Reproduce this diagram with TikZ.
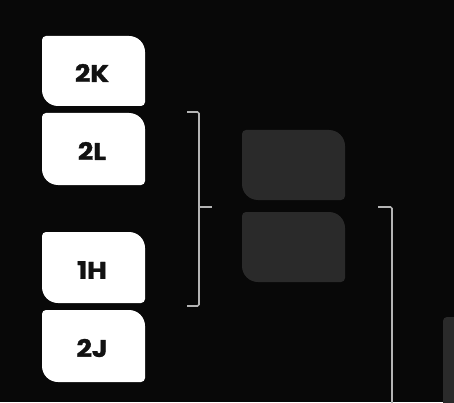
\documentclass[tikz,border=0pt]{standalone}
\usepackage{fontspec}
\usepackage{graphicx}
\setmainfont{Poppins}[BoldFeatures={FakeBold=1.3}]
\definecolor{bg}{HTML}{080808}
\definecolor{tilegray}{HTML}{2A2A2A}
\definecolor{linegray}{HTML}{B4B4B4}
\definecolor{ink}{HTML}{121212}
\newcommand{\mytile}[5]{%
  \fill[#1] (#2,#5+16) -- (#2,#4-4) arc(180:90:4) -- (#3-16,#4) arc(90:0:16)
    -- (#3,#5+4) arc(0:-90:4) -- (#2+16,#5) arc(270:180:16) -- cycle;}
\newcommand{\wide}[1]{\scalebox{1.12}[1]{#1}}
\tikzset{
  lbl/.style={text=ink, font=\fontsize{24}{26}\selectfont\bfseries, inner sep=0pt},
  bracket/.style={draw=linegray, line width=1.6pt, rounded corners=1.5pt}
}
\begin{document}
\begin{tikzpicture}[x=1pt,y=1pt]
\useasboundingbox (0,0) rectangle (454,402);
\fill[bg] (0,0) rectangle (454,402);
\begin{scope}
\clip (0,0) rectangle (454,402);
% white tiles
\mytile{white}{42}{145}{366}{296}
\mytile{white}{42}{145}{289}{217}
\mytile{white}{42}{145}{170}{99}
\mytile{white}{42}{145}{92}{20}
% gray tiles
\mytile{tilegray}{242}{345}{272}{202}
\mytile{tilegray}{242}{345}{190}{120}
\mytile{tilegray}{443}{560}{85}{-40}
\end{scope}
% labels
\node[lbl] (k2) at (92,329) {\wide{2K}};
\node[lbl] (l2) at (92,251) {\wide{2L}};
\node[lbl] (h1) at (92,132) {\wide{1H}};
\node[lbl] (j2) at (92,54) {\wide{2J}};
% bracket coordinates
\coordinate (b1t) at (187,290);
\coordinate (b1b) at (187,96);
\coordinate (b1m) at (212,195);
\coordinate (b2t) at (378,195);
\coordinate (b2b) at (392,-5);
\draw[bracket] (b1t) -- (199,290) -- (199,96) -- (b1b);
\draw[bracket] (199,195) -- (b1m);
\draw[bracket] (b2t) -- (392,195) -- (b2b);
\end{tikzpicture}
\end{document}
